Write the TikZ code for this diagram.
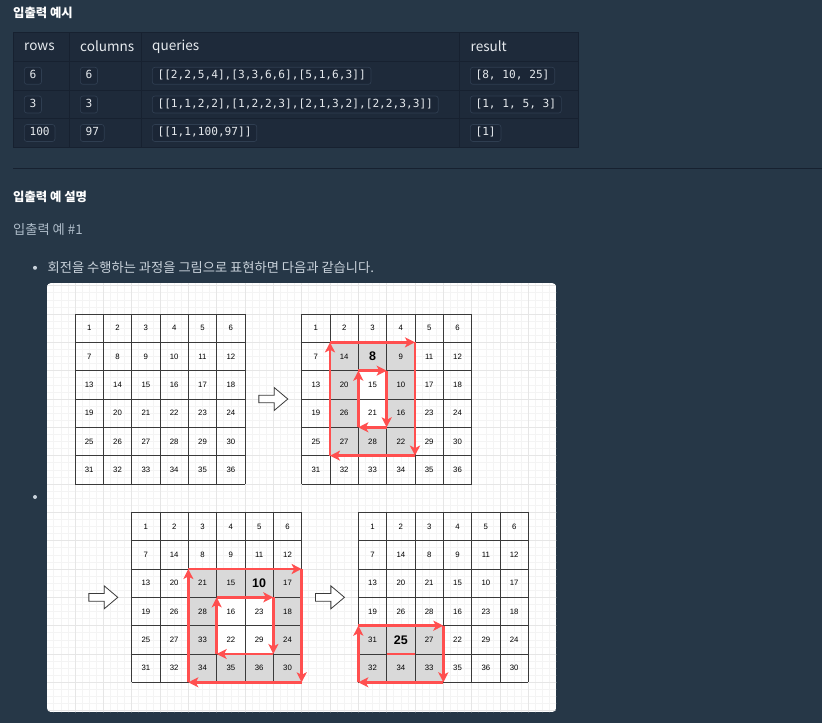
\documentclass[tikz,border=0pt]{standalone}
\usepackage{fontspec}
\setmainfont{Liberation Sans}
\newfontfamily\kr{Noto Sans CJK KR}
\newfontfamily\codefont{DejaVu Sans Mono}
\usetikzlibrary{arrows.meta}

\definecolor{pagebg}{HTML}{263747}
\definecolor{tablebg}{HTML}{1E2A3A}
\definecolor{tableline}{HTML}{172130}
\definecolor{badgebg}{HTML}{1B2636}
\definecolor{badgeline}{HTML}{2F3E51}
\definecolor{bodytxt}{HTML}{E6EAEE}
\definecolor{softtxt}{HTML}{AEBCC9}
\definecolor{listtxt}{HTML}{C9D2DB}
\definecolor{codetxt}{HTML}{E4E8EC}
\definecolor{redline}{HTML}{FF4F4F}
\definecolor{cellgray}{HTML}{D9D9D9}
\definecolor{gridgray}{HTML}{3A3A3A}
\definecolor{minorgrid}{HTML}{F4F4F4}
\definecolor{majorgrid}{HTML}{E6E6E6}

\tikzset{
  heading/.style={anchor=west, inner sep=0, text=white, font=\kr\bfseries\fontsize{12.4}{15}\selectfont},
  plaintxt/.style={anchor=west, inner sep=0, font=\kr\fontsize{13.3}{16}\selectfont},
  headcell/.style={anchor=west, inner sep=0, text=bodytxt, font=\kr\fontsize{13.6}{16}\selectfont},
  codebadge/.style={anchor=west, fill=badgebg, draw=badgeline, line width=0.7bp,
    rounded corners=2.5bp, inner xsep=5.2bp, inner ysep=3bp, text height=8.5bp, text depth=2.5bp,
    text=codetxt, font=\codefont\fontsize{11.2}{13}\selectfont},
  bulletdot/.style={circle, fill=listtxt, inner sep=0, minimum size=4bp},
  celltxt/.style={inner sep=0, font=\fontsize{7.8}{8}\selectfont},
  gridline/.style={draw=gridgray, line width=1bp},
  redarrow/.style={draw=redline, line width=2.5bp, -{Stealth[length=10bp,width=10bp,inset=2.5bp]}},
  blockarrow/.style={draw=gridgray, fill=white, line width=0.8bp, line join=miter},
}

\newcommand\bnum[1]{{\fontsize{12.5}{13}\bfseries #1}}

% 6x6 grid of numbers, #1 #2 offset in cells, #3 numbers, #4 name
\newcommand\numgrid[4]{%
  \begin{scope}[shift={(#1,#2)}]
    \foreach \i in {0,...,6} {
      \draw[gridline] (\i,0) -- (\i,6);
      \draw[gridline] (0,\i) -- (6,\i);
    }
    \foreach \v [count=\k from 0] in {#3} {
      \pgfmathtruncatemacro\cc{mod(\k,6)}
      \pgfmathtruncatemacro\rr{div(\k,6)}
      \node[celltxt] (#4-\k) at (\cc+.5,\rr+.5) {\v};
    }
  \end{scope}
}

% rotation loop: left, top, right, bottom (cells)
\newcommand\rotloop[4]{%
  \draw[redarrow] (#1,#4) -- (#1,#2);
  \draw[redarrow] (#1,#2) -- (#3,#2);
  \draw[redarrow] (#3,#2) -- (#3,#4);
  \draw[redarrow] (#3,#4) -- (#1,#4);
}

% hollow block arrow centred at #1,#2 (cells)
\newcommand\hollowarrow[2]{%
  \begin{scope}[shift={(#1,#2)}]
    \draw[blockarrow] (-.51,-.135) -- (.03,-.135) -- (.03,-.405) -- (.51,0)
      -- (.03,.405) -- (.03,.135) -- (-.51,.135) -- cycle;
  \end{scope}
}

\begin{document}
\begin{tikzpicture}[x=1bp, y=-1bp]
  \useasboundingbox (0,0) rectangle (822,723);
  \fill[pagebg] (0,0) rectangle (822,723);

  %%%%%%%%%% Examples table %%%%%%%%%%
  \node[heading] (title) at (13,12.5) {입출력 예시};
  \draw[tableline, fill=tablebg, line width=1bp] (13,32.3) rectangle (578,147.3);
  \foreach \y in {61.3,90.3,118.7}
    \draw[tableline, line width=1bp] (13,\y) -- (578,\y);
  \foreach \x in {69.5,141.5,459}
    \draw[tableline, line width=1bp] (\x,32.3) -- (\x,147.3);

  \node[headcell] (hrows) at (24,46.5) {rows};
  \node[headcell] (hcols) at (80,46.5) {columns};
  \node[headcell] (hqry) at (152,46.5) {queries};
  \node[headcell] (hres) at (470.5,46.5) {result};

  \node[codebadge] (r1a) at (24,75.8) {6};
  \node[codebadge] (r1b) at (80,75.8) {6};
  \node[codebadge] (r1c) at (152,75.8) {[[2,2,5,4],[3,3,6,6],[5,1,6,3]]};
  \node[codebadge] (r1d) at (470,75.8) {[8, 10, 25]};

  \node[codebadge] (r2a) at (24,104.5) {3};
  \node[codebadge] (r2b) at (80,104.5) {3};
  \node[codebadge] (r2c) at (152,104.5) {[[1,1,2,2],[1,2,2,3],[2,1,3,2],[2,2,3,3]]};
  \node[codebadge] (r2d) at (470,104.5) {[1, 1, 5, 3]};

  \node[codebadge] (r3a) at (24,133) {100};
  \node[codebadge] (r3b) at (80,133) {97};
  \node[codebadge] (r3c) at (152,133) {[[1,1,100,97]]};
  \node[codebadge] (r3d) at (470,133) {[1]};

  \draw[tableline, line width=1bp] (13,168) -- (822,168);

  %%%%%%%%%% Explanation %%%%%%%%%%
  \node[heading] (subtitle) at (13,197.3) {입출력 예 설명};
  \node[plaintxt, text=softtxt] (case1) at (13,229.3) {입출력 예 \#1};
  \node[bulletdot] (dot1) at (35,267.8) {};
  \node[plaintxt, text=listtxt] (line1) at (47.5,267.3) {회전을 수행하는 과정을 그림으로 표현하면 다음과 같습니다.};
  \node[bulletdot] (dot2) at (35,497) {};

  %%%%%%%%%% Picture card %%%%%%%%%%
  \begin{scope}[shift={(75,314)}, x=28.333bp, y=-28.333bp]
    \begin{scope}
      \clip[rounded corners=4bp] (-0.988,-1.094) rectangle (16.98,14.05);
      \fill[white] (-0.988,-1.094) rectangle (16.98,14.05);
      \foreach \i in {-4,...,68}
        \draw[minorgrid, line width=0.6bp] (\i/4,-1.2) -- (\i/4,14.1);
      \foreach \i in {-5,...,57}
        \draw[minorgrid, line width=0.6bp] (-1.1,\i/4) -- (17.1,\i/4);
      \foreach \i in {-1,...,17}
        \draw[majorgrid, line width=0.6bp] (\i,-1.2) -- (\i,14.1);
      \foreach \i in {-1,...,14}
        \draw[majorgrid, line width=0.6bp] (-1.1,\i) -- (17.1,\i);
    \end{scope}

    % grid 1
    \numgrid{0}{0}{1,2,3,4,5,6,7,8,9,10,11,12,13,14,15,16,17,18,19,20,21,22,23,24,25,26,27,28,29,30,31,32,33,34,35,36}{ga}
    \hollowarrow{7}{3}

    % grid 2
    \begin{scope}[shift={(8,0)}]
      \fill[cellgray] (1,1) rectangle (4,5);
      \fill[white] (2,2) rectangle (3,4);
    \end{scope}
    \numgrid{8}{0}{1,2,3,4,5,6,7,14,\bnum{8},9,11,12,13,20,15,10,17,18,19,26,21,16,23,24,25,27,28,22,29,30,31,32,33,34,35,36}{gb}
    \begin{scope}[shift={(8,0)}]
      \rotloop{1}{1}{4}{5}
      \rotloop{2}{2}{3}{4}
    \end{scope}

    % grid 3
    \hollowarrow{1}{10}
    \begin{scope}[shift={(2,7)}]
      \fill[cellgray] (2,2) rectangle (6,6);
      \fill[white] (3,3) rectangle (5,5);
    \end{scope}
    \numgrid{2}{7}{1,2,3,4,5,6,7,14,8,9,11,12,13,20,21,15,\bnum{10},17,19,26,28,16,23,18,25,27,33,22,29,24,31,32,34,35,36,30}{gc}
    \begin{scope}[shift={(2,7)}]
      \rotloop{2}{2}{6}{6}
      \rotloop{3}{3}{5}{5}
    \end{scope}

    % grid 4
    \hollowarrow{9}{10}
    \begin{scope}[shift={(10,7)}]
      \fill[cellgray] (0,4) rectangle (3,6);
    \end{scope}
    \numgrid{10}{7}{1,2,3,4,5,6,7,14,8,9,11,12,13,20,21,15,10,17,19,26,28,16,23,18,31,\bnum{25},27,22,29,24,32,34,33,35,36,30}{gd}
    \begin{scope}[shift={(10,7)}]
      \rotloop{0}{4}{3}{6}
      \draw[draw=redline, line width=2.5bp] (1,5) -- (2,5);
    \end{scope}
  \end{scope}
\end{tikzpicture}
\end{document}
